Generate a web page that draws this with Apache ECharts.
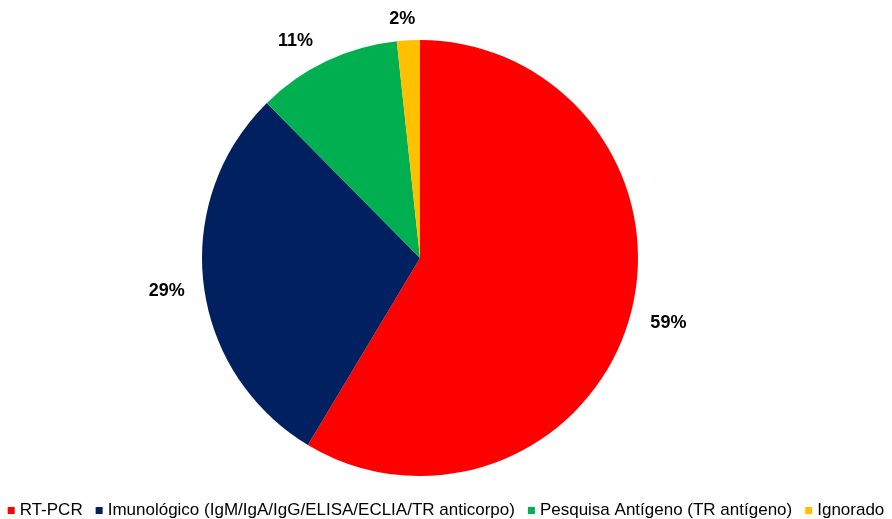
<!DOCTYPE html>
<html>
<head>
<meta charset="utf-8">
<script src="https://cdn.jsdelivr.net/npm/echarts@6/dist/echarts.min.js"></script>
<style>
  html, body { margin: 0; padding: 0; background: #fff; }
  #chart { width: 892px; height: 519px; }
</style>
</head>
<body>
<div id="chart"></div>
<script>
// categories and shares
var categories = [
  "RT-PCR",
  "Imunológico (IgM/IgA/IgG/ELISA/ECLIA/TR anticorpo)",
  "Pesquisa Antígeno (TR antígeno)",
  "Ignorado"
];
var values = [58.6, 29.0, 10.7, 1.7];
var colors = ["#FF0000", "#002060", "#00B050", "#FFC000"];

// small nudges so the percentage labels sit where the original puts them
var labelNudgeX = [-4, 6, 0, 13];
var labelNudgeY = [2, 5, -2, -1];

var chart = echarts.init(document.getElementById("chart"));

var option = {
  animation: false,
  color: colors,
  legend: {
    bottom: -5,
    left: "center",
    icon: "rect",
    itemWidth: 7,
    itemHeight: 7,
    itemGap: 13,
    textStyle: {
      fontFamily: "Liberation Sans, Arial",
      fontSize: 17,
      color: "#000"
    },
    data: categories
  },
  series: [
    {
      type: "pie",
      center: [420, 258],
      radius: 218,
      startAngle: 90,
      clockwise: true,
      data: categories.map(function (c, i) {
        return { name: c, value: values[i] };
      }),
      label: {
        show: true,
        position: "outside",
        fontFamily: "Liberation Sans, Arial",
        fontSize: 18,
        fontWeight: "bold",
        color: "#000",
        formatter: function (p) {
          return Math.round(p.percent) + "%";
        }
      },
      labelLine: { show: false, length: 20, length2: 0 },
      labelLayout: function (p) {
        return { dx: labelNudgeX[p.dataIndex], dy: labelNudgeY[p.dataIndex] };
      },
      emphasis: { disabled: true }
    }
  ]
};

chart.setOption(option);
</script>
</body>
</html>
